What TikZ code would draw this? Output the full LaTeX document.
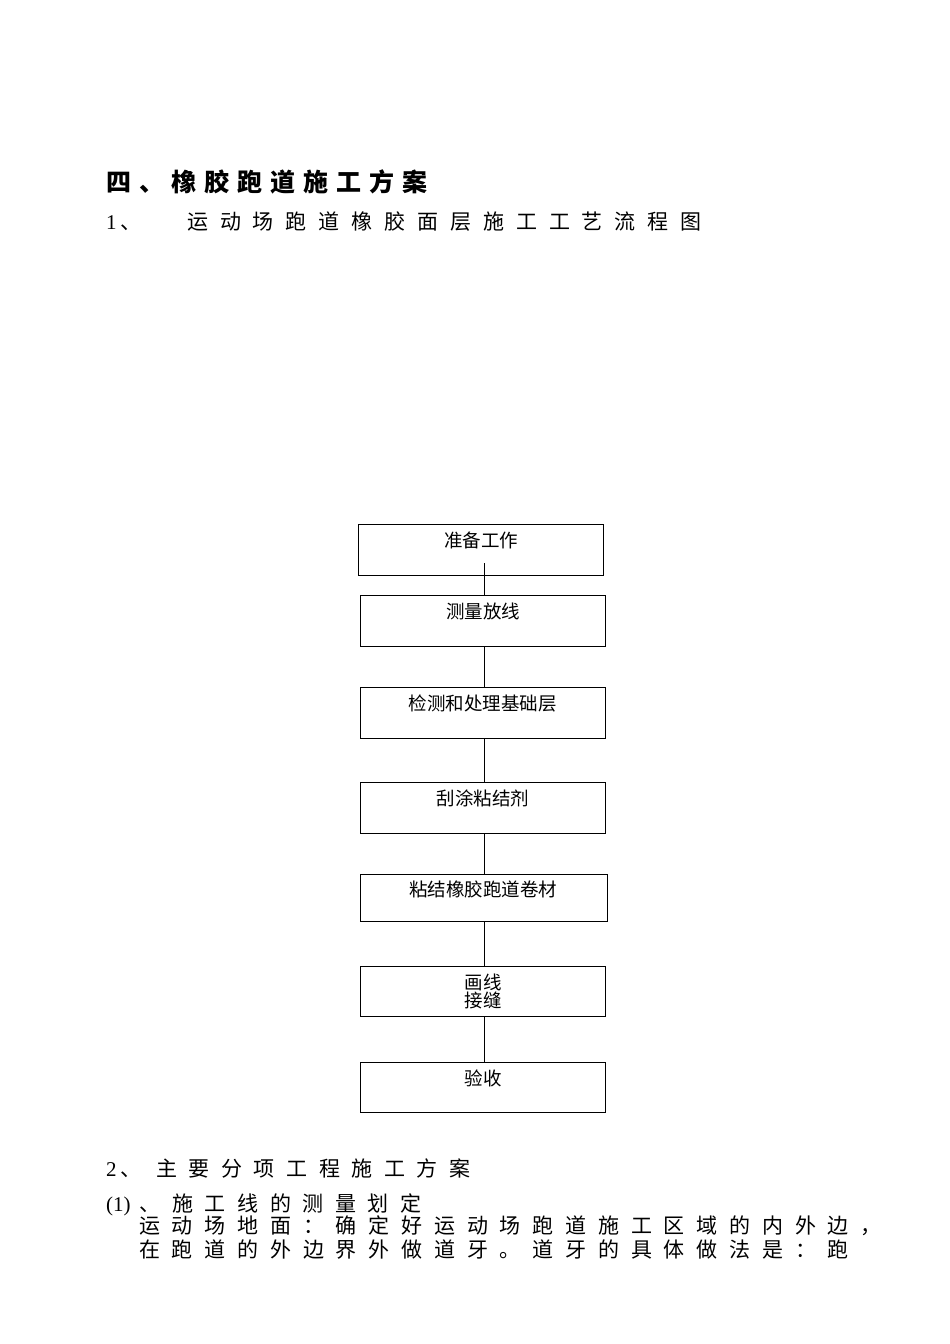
\documentclass[tikz,border=0pt]{standalone}
\usepackage{fontspec}
\setmainfont{Liberation Serif}
\newfontfamily\cjk{Noto Sans CJK SC}
\newlength\pitch
\def\spaced#1{\spacedi#1\relax}
\def\spacedi#1{\ifx\relax#1\else\makebox[\pitch][l]{#1}\expandafter\spacedi\fi}
\newcommand\sptext[2]{\setlength\pitch{#1}\spaced{#2}}
\begin{document}
\begin{tikzpicture}[x=1pt,y=-1pt,
  box/.style={draw=black, line width=1.1pt, rectangle, inner sep=0pt},
  boxtext/.style={font=\fontsize{18.5}{18}\selectfont\cjk, anchor=base, inner sep=0pt},
  body/.style={font=\fontsize{21}{21}\selectfont\cjk, anchor=base west, inner sep=0pt},
  num/.style={font=\fontsize{21}{21}\selectfont, anchor=base west, inner sep=0pt},
  link/.style={draw=black, line width=0.9pt}]
\useasboundingbox (0,0) rectangle (950,1344);
\fill[white] (0,0) rectangle (950,1344);

% headings
\node[body, font=\fontsize{25}{25}\selectfont\cjk\bfseries] (title) at (106,191.5) {\sptext{32.9pt}{四、橡胶跑道施工方案}};
\node[num] (n1) at (106,229) {1\hspace{4pt}\cjk 、};
\node[body] (h1) at (187,229) {\sptext{32.9pt}{运动场跑道橡胶面层施工工艺流程图}};

% flow boxes
\node[box, minimum width=245pt, minimum height=51pt, anchor=north west] (b1) at (358,524) {};
\node[box, minimum width=245pt, minimum height=51pt, anchor=north west] (b2) at (360,595) {};
\node[box, minimum width=245pt, minimum height=51pt, anchor=north west] (b3) at (360,687) {};
\node[box, minimum width=245pt, minimum height=51pt, anchor=north west] (b4) at (360,782) {};
\node[box, minimum width=247pt, minimum height=47pt, anchor=north west] (b5) at (360,874) {};
\node[box, minimum width=245pt, minimum height=50pt, anchor=north west] (b6) at (360,966) {};
\node[box, minimum width=245pt, minimum height=50pt, anchor=north west] (b7) at (360,1062) {};

\node[boxtext] (t1) at (481,547) {准备工作};
\node[boxtext] (t2) at (483,618) {测量放线};
\node[boxtext] (t3) at (482.5,710) {检测和处理基础层};
\node[boxtext] (t4) at (483,805) {刮涂粘结剂};
\node[boxtext] (t5) at (483,896) {粘结橡胶跑道卷材};
\node[boxtext] (t6a) at (483,989) {画线};
\node[boxtext] (t6b) at (483,1007) {接缝};
\node[boxtext] (t7) at (483,1085) {验收};

% connectors
\coordinate (c1) at (484,563);
\draw[link] (c1) -- (c1 |- b2.north);
\draw[link] (b2.south -| c1) -- (b3.north -| c1);
\draw[link] (b3.south -| c1) -- (b4.north -| c1);
\draw[link] (b4.south -| c1) -- (b5.north -| c1);
\draw[link] (b5.south -| c1) -- (b6.north -| c1);
\draw[link] (b6.south -| c1) -- (b7.north -| c1);

% section 2
\node[num] (n2) at (106,1176) {2\hspace{4pt}\cjk 、};
\node[body] (h2) at (156,1176) {\sptext{32.6pt}{主要分项工程施工方案}};
\node[num] (n3) at (106,1211) {(1)};
\node[body] (h3) at (139.5,1211) {\sptext{32.6pt}{、施工线的测量划定}};
\node[body] (p1) at (139,1233) {\sptext{32.8pt}{运动场地面：确定好运动场跑道施工区域的内外边，}};
\node[body] (p2) at (139,1257) {\sptext{32.8pt}{在跑道的外边界外做道牙。道牙的具体做法是：跑}};
\end{tikzpicture}
\end{document}
